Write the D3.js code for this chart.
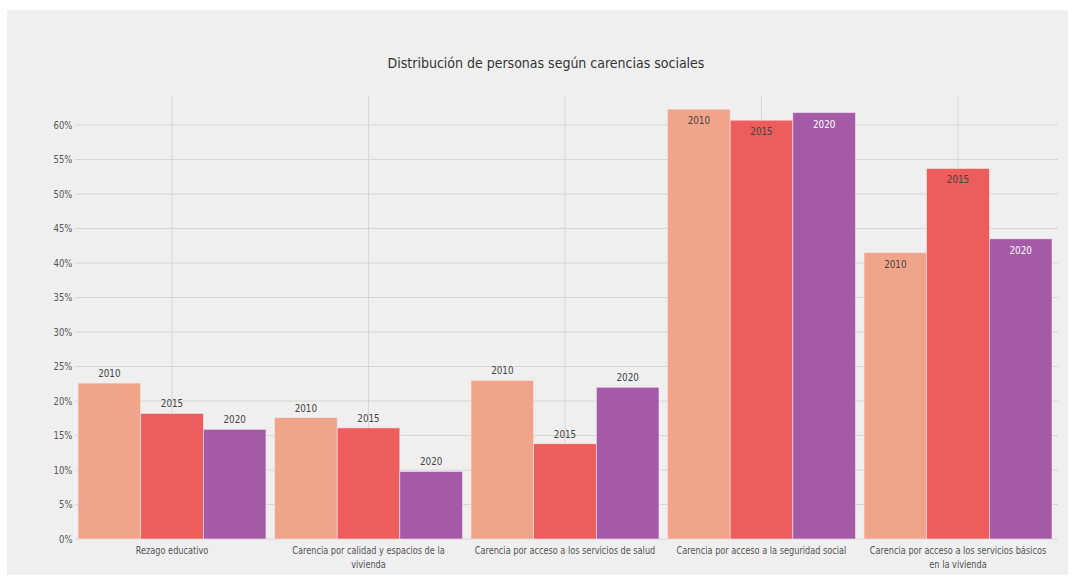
<!DOCTYPE html>
<html>
<head>
<meta charset="utf-8">
<script src="https://cdn.jsdelivr.net/npm/d3@7"></script>
<style>
  html, body { margin: 0; padding: 0; background: #ffffff; }
  svg { display: block; }
  text { font-family: "DejaVu Sans", "Liberation Sans", sans-serif; }
</style>
</head>
<body>
<svg id="chart" width="1077" height="579"></svg>
<script>
const categories = [
  "Rezago educativo",
  "Carencia por calidad y espacios de la vivienda",
  "Carencia por acceso a los servicios de salud",
  "Carencia por acceso a la seguridad social",
  "Carencia por acceso a los servicios básicos en la vivienda"
];
const categoryLabelLines = [
  ["Rezago educativo"],
  ["Carencia por calidad y espacios de la", "vivienda"],
  ["Carencia por acceso a los servicios de salud"],
  ["Carencia por acceso a la seguridad social"],
  ["Carencia por acceso a los servicios básicos", "en la vivienda"]
];
const years = ["2010", "2015", "2020"];
const values2010 = [22.6, 17.6, 23.0, 62.3, 41.5];
const values2015 = [18.2, 16.1, 13.8, 60.7, 53.7];
const values2020 = [15.9, 9.8, 22.0, 61.8, 43.5];
const yTicks = [0, 5, 10, 15, 20, 25, 30, 35, 40, 45, 50, 55, 60];
const title = "Distribución de personas según carencias sociales";

const seriesValues = { "2010": values2010, "2015": values2015, "2020": values2020 };
const colors = { "2010": "#f0a58a", "2015": "#ec5d5b", "2020": "#a55aa8" };

const svg = d3.select("#chart");

// panel background
svg.append("rect").attr("x", 7).attr("y", 10).attr("width", 1061).attr("height", 565).attr("fill", "#efefef");

const x0 = d3.scaleBand().domain(categories).range([73.75, 1056.25]).paddingInner(0.0433).paddingOuter(0.0216);
const x1 = d3.scaleBand().domain(years).range([0, x0.bandwidth()]).padding(0);
const y = d3.scaleLinear().domain([0, 60]).range([539, 125]);

// horizontal grid
svg.append("g").selectAll("line").data(yTicks).join("line")
  .attr("x1", 75).attr("x2", 1058)
  .attr("y1", d => y(d)).attr("y2", d => y(d))
  .attr("stroke", "#d6d6d6").attr("stroke-width", 1);

// vertical grid at category centers
svg.append("g").selectAll("line").data(categories).join("line")
  .attr("x1", d => x0(d) + x0.bandwidth() / 2).attr("x2", d => x0(d) + x0.bandwidth() / 2)
  .attr("y1", 96).attr("y2", 539)
  .attr("stroke", "#d6d6d6").attr("stroke-width", 1);

// y axis
const yAxis = d3.axisLeft(y).tickValues(yTicks).tickFormat(d => d + "%").tickSize(0).tickPadding(3);
const gy = svg.append("g").attr("transform", "translate(75,0)").call(yAxis);
gy.select(".domain").remove();
gy.selectAll("text").attr("font-size", 10).attr("fill", "#555")
  .attr("transform", "scale(0.85,1)");

// bars
const rows = [];
categories.forEach((c, i) => years.forEach(yr => rows.push({ cat: c, year: yr, value: seriesValues[yr][i] })));

svg.append("g").selectAll("rect").data(rows).join("rect")
  .attr("x", d => x0(d.cat) + x1(d.year))
  .attr("y", d => y(d.value))
  .attr("width", x1.bandwidth())
  .attr("height", d => y(0) - y(d.value))
  .attr("fill", d => colors[d.year])
  .attr("stroke", "#f4e6ee").attr("stroke-width", 0.6);

// year labels
svg.append("g").selectAll("g").data(rows).join("g")
  .attr("transform", d => `translate(${x0(d.cat) + x1(d.year) + x1.bandwidth() / 2},${d.value > 30 ? y(d.value) + 15 : y(d.value) - 6})`)
  .append("text")
  .attr("transform", "scale(0.8,1)")
  .attr("text-anchor", "middle")
  .attr("font-size", 11)
  .attr("fill", d => (d.value > 30 && d.year === "2020") ? "#ffffff" : "#444")
  .text(d => d.year);

// x axis labels
const xAxis = d3.axisBottom(x0).tickSize(0).tickPadding(8);
const gx = svg.append("g").attr("transform", "translate(0,539)").call(xAxis);
gx.select(".domain").remove();
gx.selectAll("text").attr("font-size", 10).attr("fill", "#555")
  .attr("transform", "scale(0.82,1)")
  .each(function(d) {
    const t = d3.select(this);
    const lines = categoryLabelLines[categories.indexOf(d)];
    t.text(null);
    lines.forEach((ln, i) => {
      t.append("tspan").attr("x", 0).attr("dy", i === 0 ? "0.71em" : "1.35em").text(ln);
    });
  });

// title
svg.append("g").attr("transform", "translate(546,68)")
  .append("text").attr("transform", "scale(0.9,1)").attr("text-anchor", "middle")
  .attr("font-size", 14).attr("fill", "#333").text(title);
</script>
</body>
</html>
